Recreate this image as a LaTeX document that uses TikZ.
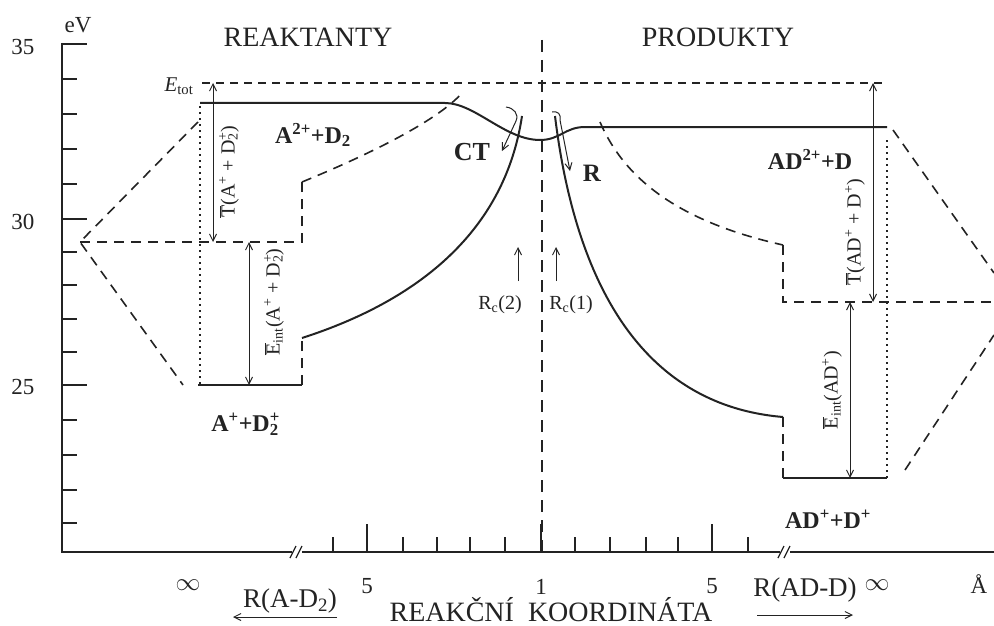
\documentclass[tikz,border=0pt]{standalone}
\usepackage{fontspec}
\setmainfont{Liberation Serif}
\usetikzlibrary{arrows.meta}
\definecolor{ink}{RGB}{35,35,35}
\newcommand{\barT}{\ensuremath{\overline{\mbox{T}}}}
\newcommand{\barE}{\ensuremath{\overline{\mbox{E}}}}
\newcommand{\supsub}[2]{\makebox[0pt][l]{\textsuperscript{#1}}\textsubscript{#2}}
\begin{document}
\begin{tikzpicture}[x=1pt,y=-1pt,
  axisl/.style={ink,line width=1.8pt},
  solidl/.style={ink,line width=2pt},
  dashl/.style={ink,line width=1.6pt,dash pattern=on 10pt off 7pt},
  dashtop/.style={ink,line width=1.5pt,dash pattern=on 8pt off 6pt},
  dotl/.style={ink,line width=1.5pt,dash pattern=on 2pt off 4pt},
  arr/.style={ink,line width=1pt,-{Straight Barb[length=7pt,width=7pt]}},
  darr/.style={ink,line width=1pt,{Straight Barb[length=7pt,width=7pt]}-{Straight Barb[length=7pt,width=7pt]}},
  num/.style={ink,inner sep=0pt,font=\fontsize{23}{27}\selectfont},
  head/.style={ink,inner sep=0pt,font=\fontsize{28}{32}\selectfont},
  coord/.style={ink,inner sep=0pt,font=\fontsize{27}{31}\selectfont},
  spec/.style={ink,inner sep=0pt,font=\fontsize{24}{28}\selectfont\bfseries},
  rot/.style={ink,inner sep=0pt,rotate=90,font=\fontsize{20}{24}\selectfont},
  small/.style={ink,inner sep=0pt,font=\fontsize{20}{24}\selectfont}]
\useasboundingbox (0,0) rectangle (994,626);
\fill[white] (0,0) rectangle (994,626);

% axes
\draw[axisl] (62,43) -- (62,552) -- (994,552);
\foreach \y in {79,114,149,184,252,285,319,352,420,455,490,523}
  \draw[axisl] (62,\y) -- (77,\y);
\foreach \y in {44,219,385}
  \draw[axisl] (62,\y) -- (87,\y);
\foreach \x in {333,403,437,470,505,575,610,646,678,748}
  \draw[axisl] (\x,552) -- (\x,537);
\foreach \x in {367,541,712}
  \draw[axisl] (\x,552) -- (\x,524);
% axis breaks
\foreach \x in {297,785}{
  \fill[white] (\x-5,546) rectangle (\x+5,558);
  \draw[ink,line width=1.2pt] (\x-7,558) -- (\x-1,546);
  \draw[ink,line width=1.2pt] (\x-1,558) -- (\x+5,546);
}

% axis labels
\node[num] (eV) at (78,25) {eV};
\node[num] (t35) at (23,47) {35};
\node[num] (t30) at (23,222) {30};
\node[num] (t25) at (23,387) {25};
\node[num] (inf1) at (188,585) {$\infty$};
\node[num] (x5a) at (367,586) {5};
\node[num] (x1) at (541,587) {1};
\node[num] (x5b) at (712,586) {5};
\node[num] (inf2) at (877,585) {$\infty$};
\node[num] (ang) at (979,584) {Å};
\node[coord] (RAD2) at (290,601) {R(A-D\textsubscript{2})};
\node[coord] (RADD) at (805,590) {R(AD-D)};
\coordinate (la1) at (337,617); \coordinate (la2) at (233,617);
\coordinate (ra1) at (757,615); \coordinate (ra2) at (853,615);
\draw[arr] (la1) -- (la2);
\draw[arr] (ra1) -- (ra2);
\node[head,anchor=base] (rk) at (551,621) {REAKČNÍ\ \ KOORDINÁTA};
\node[head] (reak) at (308,37) {REAKTANTY};
\node[head] (prod) at (718,37) {PRODUKTY};

% central dashed vertical
\draw[dashl,dash pattern=on 12pt off 8pt] (542,40) -- (542,552);

% E_tot level
\draw[dashtop] (202,83) -- (887,83);
\node[ink,inner sep=0pt,font=\fontsize{21}{24}\selectfont] (etot) at (179,86) {\textit{E}\textsubscript{tot}};

% upper solid potential curve
\draw[solidl] (200,103) -- (445,103) .. controls (475,103) and (505,140) .. (540,140)
   .. controls (560,140) and (565,127) .. (585,127) -- (887,127);

% left region
\draw[dotl] (200,106) -- (200,385);
\draw[dashl] (198,122) -- (80,242) -- (183,385);
\draw[dashl] (80,242) -- (302,242) -- (302,182);
\draw[dashl] (302,182) .. controls (380,150) and (440,118) .. (462,93);
\draw[solidl] (198,385) -- (302,385);
\draw[dashl] (302,385) -- (302,338);
\draw[solidl] (302,338) .. controls (420,300) and (505,230) .. (522,116);
\coordinate (t1a) at (213,83); \coordinate (t1b) at (213,242);
\draw[darr] (t1a) -- (t1b);
\node[rot] (t1l) at (229,172) {\barT(A\textsuperscript{+} + D\supsub{+}{2})};
\coordinate (e1a) at (249,242); \coordinate (e1b) at (249,385);
\draw[darr] (e1a) -- (e1b);
\node[rot] (e1l) at (274,302) {\barE\textsubscript{int}(A\textsuperscript{+} + D\supsub{+}{2})};

% right region
\draw[dotl] (887,140) -- (887,478);
\draw[dashl] (600,122) .. controls (625,180) and (680,222) .. (783,245);
\draw[dashl] (783,245) -- (783,302) -- (994,302);
\draw[solidl] (555,116) .. controls (575,280) and (640,405) .. (783,417);
\draw[dashl] (783,417) -- (783,478);
\draw[solidl] (783,478) -- (887,478);
\draw[dashl] (893,130) -- (994,273);
\draw[dashl] (905,470) -- (994,335);
\coordinate (t2a) at (873,83); \coordinate (t2b) at (873,302);
\draw[darr] (t2a) -- (t2b);
\node[rot] (t2l) at (855,232) {\barT(AD\textsuperscript{+} + D\textsuperscript{+})};
\coordinate (e2a) at (850,302); \coordinate (e2b) at (850,478);
\draw[darr] (e2a) -- (e2b);
\node[rot] (e2l) at (832,390) {\barE\textsubscript{int}(AD\textsuperscript{+})};

% species labels
\node[spec] (a2d2) at (313,135) {A\textsuperscript{2+}+D\textsubscript{2}};
\node[spec] (ad2d) at (810,159) {AD\textsuperscript{2+}+D};
\node[spec] (apd2p) at (245,424) {A\textsuperscript{+}+D\supsub{+}{2}};
\node[spec] (adpdp) at (828,519) {AD\textsuperscript{+}+D\textsuperscript{+}};
\node[spec,font=\fontsize{26}{30}\selectfont\bfseries] (ct) at (472,152) {CT};
\node[spec,font=\fontsize{25}{30}\selectfont\bfseries] (rr) at (592,173) {R};

% CT and R hooked arrows
\coordinate (ct0) at (506,107); \coordinate (ct1) at (502,151);
\draw[arr] (ct0) .. controls (514,108) and (519,114) .. (516,121) -- (ct1);
\coordinate (r0) at (552,112); \coordinate (r1) at (570,171);
\draw[arr] (r0) .. controls (558,111) and (561,114) .. (560,120) -- (r1);

% Rc arrows
\coordinate (rc2a) at (518,281); \coordinate (rc2b) at (518,247);
\coordinate (rc1a) at (556,281); \coordinate (rc1b) at (556,247);
\draw[arr] (rc2a) -- (rc2b);
\draw[arr] (rc1a) -- (rc1b);
\node[small] (rc2) at (500,305) {R\textsubscript{c}(2)};
\node[small] (rc1) at (571,305) {R\textsubscript{c}(1)};
\end{tikzpicture}
\end{document}
